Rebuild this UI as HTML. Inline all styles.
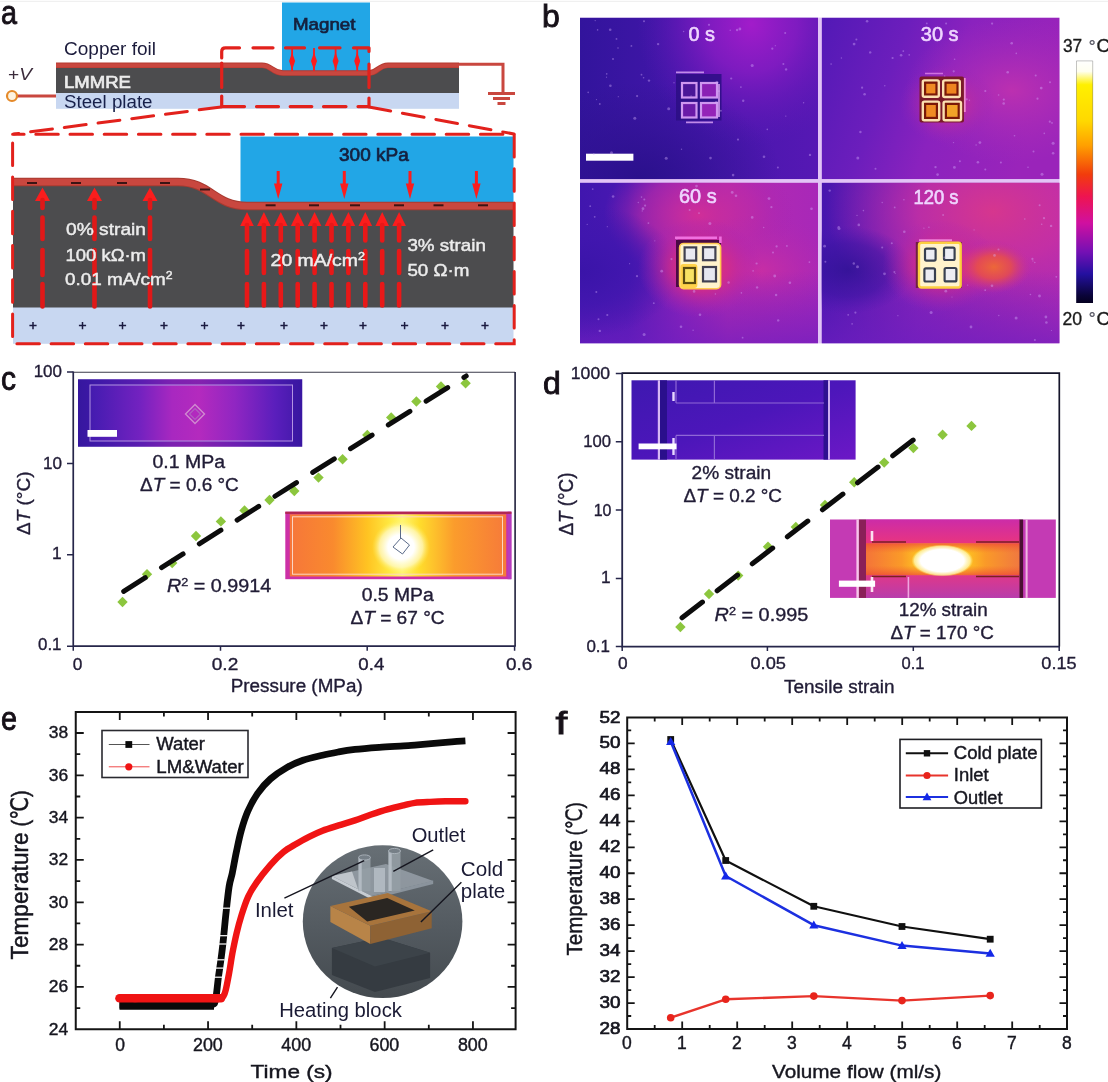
<!DOCTYPE html>
<html lang="en"><head><meta charset="utf-8"><title>Figure</title>
<style>
html,body{margin:0;padding:0;background:#fff;}
body{width:1108px;height:1082px;overflow:hidden;font-family:'Liberation Sans', 'DejaVu Sans', 'Noto Sans CJK SC', sans-serif;}
svg{display:block;}
svg text{font-family:'Liberation Sans', 'DejaVu Sans', 'Noto Sans CJK SC', sans-serif;}
</style></head><body>
<svg width="1108" height="1082" viewBox="0 0 1108 1082">
<rect width="1108" height="1082" fill="#ffffff"/>
<rect x="0" y="0.8" width="1108" height="1" fill="#ededed"/>
<g id="panel-a">
<text x="0.9" y="23.7" font-size="34" fill="#161018" textLength="16" lengthAdjust="spacingAndGlyphs" stroke="#161018" stroke-width="0.9">a</text>
<rect x="282" y="2.5" width="88" height="68.5" fill="#22a6e6"/>
<rect x="56" y="92.5" width="403" height="16.3" fill="#c8d7f1"/>
<path d="M56,66 L262,66 C272,66 272,74 283,74 L369,74 C378,74 378,66 388,66 L459,66 L459,93 L56,93 Z" fill="#4c4c4e"/>
<path d="M56,65.2 L262,65.2 C272,65.2 272,73 283,73 L369,73 C378,73 378,65.2 388,65.2 L459,65.2" fill="none" stroke="#b43a30" stroke-width="5.6"/>
<path d="M56,65.4 L262,65.4 C272,65.4 272,73.2 283,73.2 L369,73.2 C378,73.2 378,65.4 388,65.4 L459,65.4" fill="none" stroke="#c9473f" stroke-width="4"/>
<path d="M459,64.3 L503,64.3 L503,92" fill="none" stroke="#c9473f" stroke-width="3"/>
<path d="M488,93.5 H515 M493,98.5 H510 M497.5,103.5 H505.5" stroke="#c9473f" stroke-width="3" fill="none"/>
<path d="M17,96 H56" stroke="#c9473f" stroke-width="3"/>
<circle cx="12" cy="96" r="5" fill="#fdf3e0" stroke="#e58a2a" stroke-width="2.2"/>
<text x="64" y="55" font-size="18" fill="#1b1b3b" textLength="92" lengthAdjust="spacingAndGlyphs">Copper foil</text>
<text x="64" y="87.5" font-size="17" fill="#ececec" textLength="67" lengthAdjust="spacingAndGlyphs" stroke="#ececec" stroke-width="0.7">LMMRE</text>
<text x="64" y="108" font-size="17.5" fill="#17204a" textLength="88.5" lengthAdjust="spacingAndGlyphs">Steel plate</text>
<text x="8" y="80" font-size="17" fill="#3b2b3b" textLength="24" lengthAdjust="spacingAndGlyphs">+<tspan font-style="italic">V</tspan></text>
<text x="293" y="29.5" font-size="17" fill="#15213f" textLength="62.5" lengthAdjust="spacingAndGlyphs" stroke="#15213f" stroke-width="0.7">Magnet</text>
<path d="M292.1,48 V71" stroke="#fb1d1d" stroke-width="1.8"/>
<path d="M292.1,52.5 L295.1,61 L292.1,70 L289.1,61 Z" fill="#fb1d1d"/>
<path d="M314,48 V71" stroke="#fb1d1d" stroke-width="1.8"/>
<path d="M314,52.5 L317,61 L314,70 L311,61 Z" fill="#fb1d1d"/>
<path d="M335.6,48 V71" stroke="#fb1d1d" stroke-width="1.8"/>
<path d="M335.6,52.5 L338.6,61 L335.6,70 L332.6,61 Z" fill="#fb1d1d"/>
<path d="M357.2,48 V71" stroke="#fb1d1d" stroke-width="1.8"/>
<path d="M357.2,52.5 L360.2,61 L357.2,70 L354.2,61 Z" fill="#fb1d1d"/>
<path d="M221.7,58 V51.5 Q221.7,47.8 225.5,47.8 H239.5 M253,47.8 H273 M285.5,47.8 H304.5 M319.5,47.8 H340 M353.5,47.8 H369 V51.5 M221.7,63 V87.5 M221.7,96 V106.6 H244.5 M369,64 V87.5 M369,98 V106.6 H358 M256.5,106.6 H278.5 M290.2,106.6 H311.8 M323.5,106.6 H346" fill="none" stroke="#e2211c" stroke-width="3.2" stroke-linecap="round" stroke-linejoin="round"/>
<path d="M221,107 L14,134 M369,107 L514,134" fill="none" stroke="#e2211c" stroke-width="3" stroke-linecap="round" stroke-dasharray="22 12"/>
<rect x="240.5" y="136.5" width="273" height="66" fill="#22a6e6"/>
<rect x="13" y="307" width="500.5" height="36.8" fill="#c8d7f1"/>
<path d="M13,184 L178,184 C211,184 214,208 247,208 L513.5,208 L513.5,307.5 L13,307.5 Z" fill="#4c4c4e"/>
<path d="M13,182 L178,182 C211,182 214,206 247,206 L513.5,206" fill="none" stroke="#a83a30" stroke-width="8.6"/>
<path d="M13,182 L178,182 C211,182 214,206 247,206 L513.5,206" fill="none" stroke="#c9473f" stroke-width="6.4"/>
<path d="M27,183 H37" stroke="#3a1414" stroke-width="2"/>
<path d="M71,183 H81" stroke="#3a1414" stroke-width="2"/>
<path d="M117,183 H127" stroke="#3a1414" stroke-width="2"/>
<path d="M160,183 H170" stroke="#3a1414" stroke-width="2"/>
<path d="M200,189.5 H210" stroke="#3a1414" stroke-width="2"/>
<path d="M265.6,205.3 H275.6" stroke="#3a1414" stroke-width="2"/>
<path d="M309,205.3 H319" stroke="#3a1414" stroke-width="2"/>
<path d="M350,205.3 H360" stroke="#3a1414" stroke-width="2"/>
<path d="M394,205.3 H404" stroke="#3a1414" stroke-width="2"/>
<path d="M433.5,205.3 H443.5" stroke="#3a1414" stroke-width="2"/>
<path d="M478,205.3 H488" stroke="#3a1414" stroke-width="2"/>
<path d="M42.5,187.5 L50.0,201 L35.0,201 Z" fill="#fb1d1d"/>
<path d="M42.5,200 V208 M42.5,217.5 V239 M42.5,250 V275 M42.5,284 V306.5" stroke="#e01818" stroke-width="4.6" stroke-linecap="round"/>
<path d="M94.5,187.5 L102.0,201 L87.0,201 Z" fill="#fb1d1d"/>
<path d="M94.5,200 V208 M94.5,217.5 V239 M94.5,250 V275 M94.5,284 V306.5" stroke="#e01818" stroke-width="4.6" stroke-linecap="round"/>
<path d="M150,187.5 L157.5,201 L142.5,201 Z" fill="#fb1d1d"/>
<path d="M150,200 V208 M150,217.5 V239 M150,250 V275 M150,284 V306.5" stroke="#e01818" stroke-width="4.6" stroke-linecap="round"/>
<path d="M247.0,212 L253.8,226 L240.2,226 Z" fill="#fb1d1d"/>
<path d="M247.0,225 V240.5 M247.0,251 V273 M247.0,284 V305.5" stroke="#e81818" stroke-width="4.6" stroke-linecap="round"/>
<path d="M263.9,212 L270.7,226 L257.1,226 Z" fill="#fb1d1d"/>
<path d="M263.9,225 V240.5 M263.9,251 V273 M263.9,284 V305.5" stroke="#e81818" stroke-width="4.6" stroke-linecap="round"/>
<path d="M280.8,212 L287.6,226 L274.0,226 Z" fill="#fb1d1d"/>
<path d="M280.8,225 V240.5 M280.8,251 V273 M280.8,284 V305.5" stroke="#e81818" stroke-width="4.6" stroke-linecap="round"/>
<path d="M297.7,212 L304.5,226 L290.9,226 Z" fill="#fb1d1d"/>
<path d="M297.7,225 V240.5 M297.7,251 V273 M297.7,284 V305.5" stroke="#e81818" stroke-width="4.6" stroke-linecap="round"/>
<path d="M314.6,212 L321.4,226 L307.8,226 Z" fill="#fb1d1d"/>
<path d="M314.6,225 V240.5 M314.6,251 V273 M314.6,284 V305.5" stroke="#e81818" stroke-width="4.6" stroke-linecap="round"/>
<path d="M331.5,212 L338.3,226 L324.7,226 Z" fill="#fb1d1d"/>
<path d="M331.5,225 V240.5 M331.5,251 V273 M331.5,284 V305.5" stroke="#e81818" stroke-width="4.6" stroke-linecap="round"/>
<path d="M348.4,212 L355.2,226 L341.6,226 Z" fill="#fb1d1d"/>
<path d="M348.4,225 V240.5 M348.4,251 V273 M348.4,284 V305.5" stroke="#e81818" stroke-width="4.6" stroke-linecap="round"/>
<path d="M365.3,212 L372.1,226 L358.5,226 Z" fill="#fb1d1d"/>
<path d="M365.3,225 V240.5 M365.3,251 V273 M365.3,284 V305.5" stroke="#e81818" stroke-width="4.6" stroke-linecap="round"/>
<path d="M382.2,212 L389.0,226 L375.4,226 Z" fill="#fb1d1d"/>
<path d="M382.2,225 V240.5 M382.2,251 V273 M382.2,284 V305.5" stroke="#e81818" stroke-width="4.6" stroke-linecap="round"/>
<path d="M399.1,212 L405.9,226 L392.3,226 Z" fill="#fb1d1d"/>
<path d="M399.1,225 V240.5 M399.1,251 V273 M399.1,284 V305.5" stroke="#e81818" stroke-width="4.6" stroke-linecap="round"/>
<path d="M278.2,171 V186" stroke="#fb1d1d" stroke-width="3"/>
<path d="M274.0,183.5 L282.4,183.5 L278.2,199 Z" fill="#fb1d1d"/>
<path d="M344.3,171 V186" stroke="#fb1d1d" stroke-width="3"/>
<path d="M340.1,183.5 L348.5,183.5 L344.3,199 Z" fill="#fb1d1d"/>
<path d="M410,171 V186" stroke="#fb1d1d" stroke-width="3"/>
<path d="M405.8,183.5 L414.2,183.5 L410,199 Z" fill="#fb1d1d"/>
<path d="M476.4,171 V186" stroke="#fb1d1d" stroke-width="3"/>
<path d="M472.2,183.5 L480.59999999999997,183.5 L476.4,199 Z" fill="#fb1d1d"/>
<path d="M29.4,325.6 H36.6 M33,322 V329.2" stroke="#1a1a40" stroke-width="1.5"/>
<path d="M78.9,325.6 H86.1 M82.5,322 V329.2" stroke="#1a1a40" stroke-width="1.5"/>
<path d="M118.9,325.6 H126.1 M122.5,322 V329.2" stroke="#1a1a40" stroke-width="1.5"/>
<path d="M160.4,325.6 H167.6 M164,322 V329.2" stroke="#1a1a40" stroke-width="1.5"/>
<path d="M200.9,325.6 H208.1 M204.5,322 V329.2" stroke="#1a1a40" stroke-width="1.5"/>
<path d="M237.4,325.6 H244.6 M241,322 V329.2" stroke="#1a1a40" stroke-width="1.5"/>
<path d="M280.4,325.6 H287.6 M284,322 V329.2" stroke="#1a1a40" stroke-width="1.5"/>
<path d="M320.4,325.6 H327.6 M324,322 V329.2" stroke="#1a1a40" stroke-width="1.5"/>
<path d="M359.4,325.6 H366.6 M363,322 V329.2" stroke="#1a1a40" stroke-width="1.5"/>
<path d="M401.0,325.6 H408.20000000000005 M404.6,322 V329.2" stroke="#1a1a40" stroke-width="1.5"/>
<path d="M441.4,325.6 H448.6 M445,322 V329.2" stroke="#1a1a40" stroke-width="1.5"/>
<path d="M481.4,325.6 H488.6 M485,322 V329.2" stroke="#1a1a40" stroke-width="1.5"/>
<rect x="12.6" y="134.2" width="501.6" height="209.6" fill="none" stroke="#e2211c" stroke-width="3" stroke-linecap="round" stroke-dasharray="22.5 11.7" stroke-dashoffset="11"/>
<text x="339" y="161" font-size="17.5" fill="#15213f" textLength="69.7" lengthAdjust="spacingAndGlyphs" stroke="#15213f" stroke-width="0.7">300 kPa</text>
<text x="66" y="235" font-size="17" fill="#ececec" textLength="80" lengthAdjust="spacingAndGlyphs" stroke="#ececec" stroke-width="0.45">0% strain</text>
<text x="65.5" y="260.5" font-size="17" fill="#ececec" textLength="80.5" lengthAdjust="spacingAndGlyphs" stroke="#ececec" stroke-width="0.45">100 kΩ·m</text>
<text x="65" y="284.5" font-size="17" fill="#ececec" stroke="#ececec" stroke-width="0.45" textLength="107.5" lengthAdjust="spacingAndGlyphs">0.01 mA/cm<tspan dy="-6" font-size="11">2</tspan></text>
<text x="270.6" y="266" font-size="17" fill="#ececec" stroke="#ececec" stroke-width="0.45" textLength="94.4" lengthAdjust="spacingAndGlyphs">20 mA/cm<tspan dy="-6" font-size="11">2</tspan></text>
<text x="407.4" y="250.6" font-size="17" fill="#ececec" textLength="78.5" lengthAdjust="spacingAndGlyphs" stroke="#ececec" stroke-width="0.45">3% strain</text>
<text x="407.4" y="276.4" font-size="17" fill="#ececec" textLength="62" lengthAdjust="spacingAndGlyphs" stroke="#ececec" stroke-width="0.45">50 Ω·m</text>
</g>
<g id="panel-b">
<text x="542" y="27.4" font-size="32" fill="#161018" stroke="#161018" stroke-width="0.9">b</text>
<defs>
<linearGradient id="b1base" x1="0" y1="0" x2="1" y2="0"><stop offset="0" stop-color="#32149c"/><stop offset="0.45" stop-color="#4316aa"/><stop offset="1" stop-color="#5618b4"/></linearGradient>
<radialGradient id="b1mag" cx="0.72" cy="0.04" r="0.6" gradientTransform="translate(0.72 0.04) scale(0.8 1.25) translate(-0.72 -0.04)"><stop offset="0" stop-color="#a21cca"/><stop offset="0.4" stop-color="#8a1cc4" stop-opacity="0.8"/><stop offset="1" stop-color="#6018b8" stop-opacity="0"/></radialGradient>
<radialGradient id="b1dark" cx="0.25" cy="1.0" r="0.6"><stop offset="0" stop-color="#2a108c"/><stop offset="1" stop-color="#30128f" stop-opacity="0"/></radialGradient>
<linearGradient id="b2base" x1="0" y1="0" x2="1" y2="0.25"><stop offset="0" stop-color="#5219b6"/><stop offset="0.35" stop-color="#6c1ebc"/><stop offset="0.6" stop-color="#8a22be"/><stop offset="1" stop-color="#9a24ba"/></linearGradient>
<radialGradient id="b2pink" cx="0.8" cy="0.45" r="0.45"><stop offset="0" stop-color="#bc30b0"/><stop offset="1" stop-color="#a62cba" stop-opacity="0"/></radialGradient>
<radialGradient id="glow2" cx="0.5" cy="0.5" r="0.5"><stop offset="0" stop-color="#e0407a"/><stop offset="0.45" stop-color="#c42e9a" stop-opacity="0.7"/><stop offset="1" stop-color="#9626b8" stop-opacity="0"/></radialGradient>
<linearGradient id="b3base" x1="0" y1="0" x2="1" y2="0"><stop offset="0" stop-color="#4016ae"/><stop offset="0.2" stop-color="#4a18b2"/><stop offset="0.42" stop-color="#8a22b8"/><stop offset="0.62" stop-color="#b42ab0"/><stop offset="1" stop-color="#a828b8"/></linearGradient>
<radialGradient id="b3pink" cx="0.5" cy="0.2" r="0.4"><stop offset="0" stop-color="#d02e98"/><stop offset="0.6" stop-color="#bc2aa6" stop-opacity="0.6"/><stop offset="1" stop-color="#a424b2" stop-opacity="0"/></radialGradient>
<radialGradient id="b3pink2" cx="0.75" cy="0.55" r="0.35"><stop offset="0" stop-color="#c82ea4"/><stop offset="1" stop-color="#b028b0" stop-opacity="0"/></radialGradient>
<linearGradient id="bbot" x1="0" y1="0" x2="0" y2="1"><stop offset="0.55" stop-color="#6e1ec0" stop-opacity="0"/><stop offset="1" stop-color="#6e1ec0" stop-opacity="0.7"/></linearGradient>
<radialGradient id="b3dark" cx="0.0" cy="0.55" r="0.42"><stop offset="0" stop-color="#3a14a8"/><stop offset="0.5" stop-color="#4016ae" stop-opacity="0.8"/><stop offset="1" stop-color="#4216ae" stop-opacity="0"/></radialGradient>
<radialGradient id="glow3" cx="0.5" cy="0.5" r="0.5"><stop offset="0" stop-color="#f03c5a"/><stop offset="0.45" stop-color="#d42c88" stop-opacity="0.8"/><stop offset="1" stop-color="#a824b4" stop-opacity="0"/></radialGradient>
<linearGradient id="b4base" x1="0" y1="0" x2="1" y2="0"><stop offset="0" stop-color="#4616ae"/><stop offset="0.4" stop-color="#8222b8"/><stop offset="1" stop-color="#b42cb2"/></linearGradient>
<radialGradient id="b4pink" cx="0.72" cy="0.18" r="0.7"><stop offset="0" stop-color="#d6368e"/><stop offset="0.45" stop-color="#c830a2" stop-opacity="0.8"/><stop offset="1" stop-color="#a628b2" stop-opacity="0"/></radialGradient>
<radialGradient id="b4dark" cx="0.5" cy="0.5" r="0.5"><stop offset="0" stop-color="#2e1294"/><stop offset="0.6" stop-color="#3a14a2" stop-opacity="0.7"/><stop offset="1" stop-color="#4616ae" stop-opacity="0"/></radialGradient>
<radialGradient id="b4hot" cx="0.5" cy="0.5" r="0.5"><stop offset="0" stop-color="#ee6a34"/><stop offset="0.45" stop-color="#e85048" stop-opacity="0.85"/><stop offset="1" stop-color="#c8309a" stop-opacity="0"/></radialGradient>
<linearGradient id="cbar" x1="0" y1="0" x2="0" y2="1">
<stop offset="0" stop-color="#ffffff"/><stop offset="0.045" stop-color="#fffff0"/><stop offset="0.10" stop-color="#fff000"/><stop offset="0.25" stop-color="#ffd800"/><stop offset="0.35" stop-color="#ffa000"/><stop offset="0.47" stop-color="#f23c0c"/><stop offset="0.56" stop-color="#ee1450"/><stop offset="0.67" stop-color="#d010a0"/><stop offset="0.79" stop-color="#7410b4"/><stop offset="0.88" stop-color="#2410a0"/><stop offset="0.97" stop-color="#0a0438"/><stop offset="1" stop-color="#050020"/></linearGradient>
<clipPath id="cb1"><rect x="580" y="17.6" width="238" height="161.6"/></clipPath>
<clipPath id="cb2"><rect x="821.6" y="17.6" width="238" height="161.6"/></clipPath>
<clipPath id="cb3"><rect x="580" y="182.6" width="238" height="160.8"/></clipPath>
<clipPath id="cb4"><rect x="821.6" y="182.6" width="238" height="160.8"/></clipPath>
</defs>
<rect x="580" y="17.6" width="479.6" height="325.8" fill="#e2c4f6"/>
<g clip-path="url(#cb1)">
<rect x="580" y="17.6" width="238" height="161.6" fill="url(#b1base)"/>
<rect x="580" y="17.6" width="238" height="161.6" fill="url(#b1mag)"/>
<rect x="580" y="17.6" width="238" height="161.6" fill="url(#b1dark)"/>
<rect x="676" y="74" width="45.5" height="46.5" fill="#2c0e84" opacity="0.85"/>
<rect x="682" y="83" width="14.5" height="14.5" fill="#4a1698" stroke="#cf96f0" stroke-width="2.2"/>
<rect x="701" y="83" width="16" height="14.5" fill="#8a20b4" stroke="#cf96f0" stroke-width="2.2"/>
<rect x="682" y="103" width="14.5" height="14.5" fill="#6a1aa8" stroke="#cf96f0" stroke-width="2.2"/>
<rect x="701" y="103" width="16" height="14.5" fill="#9424b8" stroke="#cf96f0" stroke-width="2.2"/>
<path d="M676,72.4 H704 M686,122.4 H713" stroke="#c08ae8" stroke-width="1.8"/>
<path d="M719,84 V117" stroke="#d8a0f0" stroke-width="1.6"/>
</g>
<rect x="586" y="153.7" width="47.4" height="7" fill="#ffffff"/>
<g clip-path="url(#cb2)">
<rect x="821.6" y="17.6" width="238" height="161.6" fill="url(#b2base)"/>
<rect x="821.6" y="17.6" width="238" height="161.6" fill="url(#b2pink)"/>
<ellipse cx="947" cy="104" rx="48" ry="40" fill="url(#glow2)" opacity="0.75"/>
<rect x="919.5" y="76.5" width="44.5" height="46" rx="2" fill="#7a1a2a"/>
<path d="M964.8,78 V112" stroke="#f08ad0" stroke-width="1.8"/>
<path d="M925,73.5 H943" stroke="#d070e0" stroke-width="1.6"/>
<rect x="922.8" y="80.4" width="16" height="16.4" rx="1.5" fill="#7a1808" stroke="#fbe0b0" stroke-width="2.4"/>
<rect x="926.1999999999999" y="83.80000000000001" width="9.2" height="9.6" fill="#f08a24"/>
<rect x="943.2" y="80.4" width="16.6" height="16.6" rx="1.5" fill="#7a1808" stroke="#fbe0b0" stroke-width="2.4"/>
<rect x="946.6" y="83.80000000000001" width="9.8" height="9.8" fill="#ee8420"/>
<rect x="922.8" y="101.6" width="16.4" height="18.6" rx="1.5" fill="#7a1808" stroke="#fbe0b0" stroke-width="2.4"/>
<rect x="926.1999999999999" y="105.0" width="9.6" height="11.8" fill="#f08a24"/>
<rect x="943.6" y="101.6" width="17.4" height="18.6" rx="1.5" fill="#7a1808" stroke="#fbe0b0" stroke-width="2.4"/>
<rect x="947.0" y="105.0" width="10.6" height="11.8" fill="#f2a228"/>
</g>
<g clip-path="url(#cb3)">
<rect x="580" y="182.6" width="238" height="160.8" fill="url(#b3base)"/>
<rect x="580" y="182.6" width="238" height="160.8" fill="url(#b3pink)"/>
<rect x="580" y="182.6" width="238" height="160.8" fill="url(#b3pink2)"/>
<rect x="580" y="182.6" width="238" height="160.8" fill="url(#bbot)"/>
<rect x="580" y="182.6" width="238" height="160.8" fill="url(#b3dark)"/>
<ellipse cx="700" cy="268" rx="62" ry="50" fill="url(#glow3)"/>
<rect x="676" y="240" width="45" height="47" fill="#4a0a44"/>
<path d="M675,237.8 H717 M720.4,236.5 V243" stroke="#f070e0" stroke-width="2.6"/>
<rect x="679.6" y="243.5" width="41" height="45.2" rx="4" fill="#fff3cc" stroke="#ffc850" stroke-width="1.6"/>
<rect x="680.4" y="264" width="17" height="24" rx="3" fill="#ffd24a"/>
<rect x="684.6" y="247.4" width="11.6" height="13.2" fill="#e9e9f1" stroke="#404050" stroke-width="2.2"/>
<rect x="703" y="247.2" width="12.4" height="13" fill="#e9e9f1" stroke="#404050" stroke-width="2.2"/>
<rect x="684" y="268" width="11" height="15" fill="#f8e264" stroke="#5a4a10" stroke-width="2.2"/>
<rect x="703" y="267" width="13" height="14.4" fill="#e6e8f0" stroke="#404050" stroke-width="2.2"/>
</g>
<g clip-path="url(#cb4)">
<rect x="821.6" y="182.6" width="238" height="160.8" fill="url(#b4base)"/>
<rect x="821.6" y="182.6" width="238" height="160.8" fill="url(#b4pink)"/>
<rect x="821.6" y="182.6" width="238" height="160.8" fill="url(#bbot)"/>
<ellipse cx="848" cy="270" rx="66" ry="44" fill="url(#b4dark)" opacity="0.8"/>
<ellipse cx="940" cy="266" rx="58" ry="46" fill="url(#glow3)" opacity="0.8"/>
<ellipse cx="980" cy="268" rx="52" ry="30" fill="url(#glow3)" opacity="0.55"/>
<ellipse cx="994" cy="267" rx="38" ry="26" fill="url(#b4hot)" opacity="0.95"/>
<rect x="915.8" y="242" width="46" height="46" fill="#702040"/>
<path d="M919,240.3 H952" stroke="#f080d8" stroke-width="2"/>
<rect x="919" y="242.8" width="41.7" height="44.7" rx="2.5" fill="#fff3cc" stroke="#fccf40" stroke-width="2.4"/>
<rect x="925" y="248.6" width="10.6" height="12" rx="1.5" fill="#ecedf3" stroke="#384050" stroke-width="2.2"/>
<rect x="944" y="247.6" width="10.6" height="12.4" rx="1.5" fill="#ecedf3" stroke="#384050" stroke-width="2.2"/>
<rect x="924.4" y="268.3" width="10.6" height="13.2" rx="1.5" fill="#ecedf3" stroke="#384050" stroke-width="2.2"/>
<rect x="944.6" y="268" width="11.8" height="13.4" rx="1.5" fill="#ecedf3" stroke="#384050" stroke-width="2.2"/>
</g>
<g fill="#d8b4ff" opacity="0.38"><circle cx="658.1" cy="44.1" r="1.2"/><circle cx="599.8" cy="104.0" r="0.9"/><circle cx="596.5" cy="99.6" r="0.6"/><circle cx="683.6" cy="31.5" r="0.7"/><circle cx="681.5" cy="149.3" r="0.7"/><circle cx="634.8" cy="118.2" r="1.5"/><circle cx="716.9" cy="82.3" r="1.5"/><circle cx="593.8" cy="154.2" r="0.9"/><circle cx="616.5" cy="38.9" r="0.9"/><circle cx="772.3" cy="48.7" r="1.1"/><circle cx="731.2" cy="78.5" r="1.1"/><circle cx="597.6" cy="29.9" r="0.8"/><circle cx="740.9" cy="87.1" r="0.9"/><circle cx="718.9" cy="91.1" r="0.9"/><circle cx="767.3" cy="129.4" r="0.8"/><circle cx="716.3" cy="102.3" r="1.4"/><circle cx="752.2" cy="65.4" r="1.5"/><circle cx="610.4" cy="85.7" r="1.3"/><circle cx="618.3" cy="96.7" r="0.6"/><circle cx="738.0" cy="139.6" r="1.1"/><circle cx="786.1" cy="69.4" r="1.2"/><circle cx="720.9" cy="110.8" r="1.0"/><circle cx="777.9" cy="167.6" r="1.0"/><circle cx="737.1" cy="30.0" r="1.2"/><circle cx="733.1" cy="175.1" r="1.3"/><circle cx="649.0" cy="80.6" r="1.2"/><circle cx="588.2" cy="92.4" r="0.8"/><circle cx="610.2" cy="29.8" r="1.3"/><circle cx="613.0" cy="59.1" r="1.0"/><circle cx="785.2" cy="33.1" r="1.0"/><circle cx="710.5" cy="158.1" r="1.3"/><circle cx="783.4" cy="63.9" r="1.0"/><circle cx="666.2" cy="158.2" r="1.5"/><circle cx="618.0" cy="48.0" r="0.8"/><circle cx="637.1" cy="96.1" r="1.1"/><circle cx="644.0" cy="21.2" r="1.0"/><circle cx="668.7" cy="108.7" r="1.5"/><circle cx="743.2" cy="100.8" r="1.2"/><circle cx="739.9" cy="29.0" r="1.4"/><circle cx="764.0" cy="156.7" r="1.3"/><circle cx="674.0" cy="82.7" r="0.7"/><circle cx="730.2" cy="30.3" r="0.7"/><circle cx="631.4" cy="45.9" r="0.9"/><circle cx="595.2" cy="20.6" r="0.7"/><circle cx="606.5" cy="77.2" r="0.6"/><circle cx="785.8" cy="116.1" r="0.7"/><circle cx="641.5" cy="74.7" r="0.9"/><circle cx="611.5" cy="152.7" r="1.5"/><circle cx="691.1" cy="95.9" r="0.7"/><circle cx="606.7" cy="73.9" r="0.8"/><circle cx="775.3" cy="45.7" r="0.6"/><circle cx="803.6" cy="102.8" r="0.7"/><circle cx="709.0" cy="24.8" r="1.1"/><circle cx="810.0" cy="154.9" r="1.2"/><circle cx="643.6" cy="77.7" r="0.8"/><circle cx="1003.7" cy="103.5" r="1.3"/><circle cx="901.1" cy="55.3" r="1.3"/><circle cx="1053.1" cy="153.3" r="1.3"/><circle cx="1014.5" cy="135.7" r="0.8"/><circle cx="944.7" cy="75.9" r="0.6"/><circle cx="831.1" cy="64.1" r="0.8"/><circle cx="985.3" cy="169.4" r="1.0"/><circle cx="1042.0" cy="174.3" r="1.5"/><circle cx="909.2" cy="54.9" r="0.8"/><circle cx="870.2" cy="52.4" r="1.2"/><circle cx="1033.5" cy="151.4" r="1.0"/><circle cx="976.1" cy="145.0" r="0.7"/><circle cx="977.9" cy="162.2" r="1.3"/><circle cx="998.6" cy="95.0" r="0.8"/><circle cx="1007.7" cy="72.3" r="1.3"/><circle cx="1050.0" cy="82.2" r="1.0"/><circle cx="1044.3" cy="133.4" r="0.8"/><circle cx="854.1" cy="44.1" r="1.4"/><circle cx="1011.7" cy="43.3" r="1.3"/><circle cx="1052.0" cy="122.9" r="0.9"/><circle cx="951.9" cy="41.0" r="0.6"/><circle cx="1049.8" cy="121.7" r="1.1"/><circle cx="1041.2" cy="88.1" r="1.4"/><circle cx="1016.3" cy="53.4" r="0.8"/><circle cx="892.6" cy="58.0" r="1.1"/><circle cx="884.8" cy="85.8" r="0.7"/><circle cx="1035.7" cy="75.6" r="1.0"/><circle cx="959.9" cy="161.3" r="1.0"/><circle cx="1037.5" cy="98.7" r="1.1"/><circle cx="946.1" cy="23.5" r="1.0"/><circle cx="867.1" cy="21.2" r="1.3"/><circle cx="864.6" cy="94.3" r="1.3"/><circle cx="953.7" cy="71.3" r="1.1"/><circle cx="953.5" cy="142.6" r="0.7"/><circle cx="954.6" cy="59.3" r="0.8"/><circle cx="1003.8" cy="99.6" r="1.1"/><circle cx="1000.9" cy="162.6" r="1.0"/><circle cx="966.7" cy="99.3" r="1.1"/><circle cx="985.3" cy="91.0" r="1.1"/><circle cx="935.5" cy="167.1" r="1.2"/><circle cx="1028.0" cy="167.2" r="0.8"/><circle cx="954.4" cy="167.4" r="1.4"/><circle cx="856.4" cy="39.5" r="1.0"/><circle cx="841.4" cy="58.0" r="0.7"/><circle cx="979.9" cy="142.6" r="1.4"/><circle cx="860.4" cy="132.0" r="1.2"/><circle cx="857.8" cy="158.0" r="1.5"/><circle cx="875.5" cy="168.8" r="1.0"/><circle cx="937.6" cy="174.6" r="1.3"/><circle cx="862.1" cy="87.7" r="1.1"/><circle cx="903.3" cy="51.1" r="0.9"/><circle cx="992.1" cy="23.6" r="1.1"/><circle cx="926.8" cy="23.4" r="0.9"/><circle cx="969.4" cy="100.3" r="0.7"/><circle cx="1053.1" cy="143.3" r="1.5"/><circle cx="607.3" cy="226.7" r="0.6"/><circle cx="763.7" cy="227.5" r="0.7"/><circle cx="681.0" cy="326.7" r="1.3"/><circle cx="643.0" cy="208.7" r="1.4"/><circle cx="715.4" cy="294.0" r="0.7"/><circle cx="596.3" cy="292.1" r="1.0"/><circle cx="599.8" cy="330.9" r="1.2"/><circle cx="769.0" cy="198.6" r="1.4"/><circle cx="598.5" cy="319.2" r="1.0"/><circle cx="661.7" cy="271.2" r="1.4"/><circle cx="645.1" cy="205.6" r="1.1"/><circle cx="638.3" cy="202.5" r="0.7"/><circle cx="594.7" cy="216.8" r="0.9"/><circle cx="653.8" cy="303.2" r="0.9"/><circle cx="699.0" cy="213.1" r="0.9"/><circle cx="587.2" cy="224.4" r="0.6"/><circle cx="753.1" cy="270.9" r="0.8"/><circle cx="693.1" cy="330.3" r="0.7"/><circle cx="773.0" cy="252.5" r="1.0"/><circle cx="776.6" cy="246.4" r="1.1"/><circle cx="742.6" cy="337.7" r="0.9"/><circle cx="776.1" cy="295.0" r="1.2"/><circle cx="676.9" cy="239.4" r="0.6"/><circle cx="613.1" cy="196.5" r="1.3"/><circle cx="642.3" cy="210.9" r="0.7"/><circle cx="778.2" cy="320.4" r="1.2"/><circle cx="648.4" cy="223.1" r="0.9"/><circle cx="689.6" cy="210.0" r="1.0"/><circle cx="644.1" cy="334.5" r="1.5"/><circle cx="709.9" cy="223.4" r="1.5"/><circle cx="654.8" cy="240.8" r="0.6"/><circle cx="671.5" cy="259.1" r="1.1"/><circle cx="629.6" cy="263.7" r="0.6"/><circle cx="644.3" cy="199.5" r="1.0"/><circle cx="592.7" cy="189.1" r="0.9"/><circle cx="637.0" cy="276.2" r="1.1"/><circle cx="757.1" cy="287.4" r="1.2"/><circle cx="786.9" cy="245.9" r="0.9"/><circle cx="811.5" cy="208.7" r="1.3"/><circle cx="732.2" cy="192.4" r="1.4"/><circle cx="789.9" cy="282.7" r="1.3"/><circle cx="771.4" cy="207.2" r="1.1"/><circle cx="700.0" cy="314.8" r="1.3"/><circle cx="774.7" cy="276.0" r="1.4"/><circle cx="741.4" cy="292.9" r="0.8"/><circle cx="590.2" cy="206.2" r="0.9"/><circle cx="607.3" cy="315.0" r="1.1"/><circle cx="728.6" cy="282.5" r="1.2"/><circle cx="696.5" cy="186.1" r="1.3"/><circle cx="756.6" cy="263.5" r="1.1"/><circle cx="736.0" cy="195.8" r="1.3"/><circle cx="641.5" cy="197.1" r="0.8"/><circle cx="752.2" cy="217.4" r="1.3"/><circle cx="809.4" cy="262.1" r="0.9"/><circle cx="694.1" cy="291.4" r="1.3"/><circle cx="967.7" cy="285.1" r="0.7"/><circle cx="858.8" cy="224.9" r="1.3"/><circle cx="895.2" cy="273.5" r="0.6"/><circle cx="838.7" cy="227.2" r="1.2"/><circle cx="985.2" cy="290.2" r="0.9"/><circle cx="944.4" cy="257.5" r="1.0"/><circle cx="852.1" cy="323.9" r="0.8"/><circle cx="1051.5" cy="330.5" r="0.6"/><circle cx="931.1" cy="312.5" r="1.5"/><circle cx="928.9" cy="227.2" r="0.8"/><circle cx="1044.0" cy="218.2" r="1.1"/><circle cx="857.5" cy="266.7" r="1.5"/><circle cx="855.4" cy="312.6" r="1.1"/><circle cx="1030.4" cy="294.5" r="0.8"/><circle cx="1032.9" cy="260.9" r="0.6"/><circle cx="825.4" cy="261.7" r="1.0"/><circle cx="894.7" cy="207.4" r="0.9"/><circle cx="897.9" cy="315.7" r="0.6"/><circle cx="998.8" cy="315.5" r="0.7"/><circle cx="1039.5" cy="296.0" r="1.4"/><circle cx="891.8" cy="243.2" r="1.0"/><circle cx="1056.3" cy="276.8" r="0.9"/><circle cx="923.9" cy="228.2" r="0.6"/><circle cx="848.2" cy="314.8" r="0.9"/><circle cx="1041.7" cy="224.2" r="0.8"/><circle cx="943.1" cy="215.0" r="0.9"/><circle cx="1046.4" cy="322.5" r="1.3"/><circle cx="971.0" cy="327.0" r="1.4"/><circle cx="952.0" cy="297.0" r="0.6"/><circle cx="994.5" cy="255.4" r="1.3"/><circle cx="974.1" cy="229.9" r="0.6"/><circle cx="1039.6" cy="205.3" r="1.0"/><circle cx="904.3" cy="231.7" r="1.3"/><circle cx="1051.1" cy="225.9" r="1.2"/><circle cx="894.4" cy="271.9" r="1.0"/><circle cx="863.4" cy="210.6" r="0.8"/><circle cx="1034.8" cy="262.5" r="0.8"/><circle cx="1034.9" cy="339.9" r="1.0"/><circle cx="857.0" cy="215.4" r="0.7"/><circle cx="903.9" cy="199.7" r="0.8"/><circle cx="884.5" cy="273.8" r="1.4"/><circle cx="998.5" cy="249.5" r="1.0"/><circle cx="946.2" cy="243.9" r="0.9"/><circle cx="839.0" cy="228.6" r="1.5"/><circle cx="853.8" cy="263.5" r="1.2"/><circle cx="1024.8" cy="219.0" r="0.8"/><circle cx="882.2" cy="247.5" r="1.0"/><circle cx="1045.9" cy="317.0" r="1.4"/><circle cx="829.7" cy="190.6" r="1.2"/><circle cx="1032.4" cy="258.9" r="1.1"/><circle cx="824.6" cy="246.2" r="1.4"/><circle cx="1016.1" cy="318.0" r="1.5"/><circle cx="882.2" cy="202.5" r="0.7"/><circle cx="945.8" cy="291.2" r="1.4"/><circle cx="992.0" cy="285.8" r="1.3"/></g>
<text x="688.5" y="41" font-size="20" fill="#efd6ff" textLength="26.5" lengthAdjust="spacingAndGlyphs" stroke="#efd6ff" stroke-width="0.6">0 s</text>
<text x="920.8" y="40.5" font-size="20" fill="#efd6ff" textLength="37.7" lengthAdjust="spacingAndGlyphs" stroke="#efd6ff" stroke-width="0.6">30 s</text>
<text x="679.1" y="203" font-size="20" fill="#efd6ff" textLength="37.5" lengthAdjust="spacingAndGlyphs" stroke="#efd6ff" stroke-width="0.6">60 s</text>
<text x="913.5" y="203.6" font-size="20" fill="#efd6ff" textLength="45" lengthAdjust="spacingAndGlyphs" stroke="#efd6ff" stroke-width="0.6">120 s</text>
<rect x="1076.2" y="60.5" width="16.8" height="242.5" fill="url(#cbar)"/>
<path d="M1076.5,200 V60.9 H1092.7 V200" fill="none" stroke="#777" stroke-opacity="0.55" stroke-width="0.8"/>
<text y="52.3" font-size="19" fill="#1a1a1a" stroke="#1a1a1a" stroke-width="0.35"><tspan x="1063" textLength="19.2" lengthAdjust="spacingAndGlyphs">37</tspan><tspan x="1084" dy="-0.8" font-size="17" fill="#5a5a66" stroke="#5a5a66"> °</tspan><tspan x="1096.6" dy="0.8">C</tspan></text>
<text y="324.8" font-size="19" fill="#1a1a1a" stroke="#1a1a1a" stroke-width="0.35"><tspan x="1062.5" textLength="19.6" lengthAdjust="spacingAndGlyphs">20</tspan><tspan x="1084" dy="-0.8" font-size="17" fill="#5a5a66" stroke="#5a5a66"> °</tspan><tspan x="1096.6" dy="0.8">C</tspan></text>
</g>
<g id="panel-c">
<defs>
<linearGradient id="c1g" x1="0" y1="0" x2="1" y2="0"><stop offset="0" stop-color="#3c18a4"/><stop offset="0.08" stop-color="#481cb2"/><stop offset="0.28" stop-color="#7422c0"/><stop offset="0.42" stop-color="#a828c0"/><stop offset="0.54" stop-color="#b42abe"/><stop offset="0.7" stop-color="#9026c2"/><stop offset="0.88" stop-color="#5a1ebc"/><stop offset="1" stop-color="#4018a8"/></linearGradient>
<linearGradient id="c2g" x1="0" y1="0" x2="1" y2="0"><stop offset="0" stop-color="#f6763a"/><stop offset="0.2" stop-color="#f98a2e"/><stop offset="0.36" stop-color="#ffc422"/><stop offset="0.46" stop-color="#ffe840"/><stop offset="0.52" stop-color="#fff670"/><stop offset="0.60" stop-color="#ffdc2c"/><stop offset="0.76" stop-color="#fb9c2c"/><stop offset="1" stop-color="#f67a3a"/></linearGradient>
<radialGradient id="c2w" cx="0.5" cy="0.5" r="0.5"><stop offset="0" stop-color="#ffffff"/><stop offset="0.45" stop-color="#ffffff"/><stop offset="0.75" stop-color="#fffbd0" stop-opacity="0.7"/><stop offset="1" stop-color="#ffee60" stop-opacity="0"/></radialGradient>
</defs>
<text x="1.0" y="389.6" font-size="33" fill="#161018" textLength="15" lengthAdjust="spacingAndGlyphs" stroke="#161018" stroke-width="0.9">c</text>
<rect x="78" y="379.3" width="224.2" height="67.4" fill="url(#c1g)"/>
<path d="M78,379.3 H302.2 V446.7 H78 Z M90,385 V441 H292.5 V385 Z" fill="#2c1494" fill-opacity="0.35" fill-rule="evenodd"/>
<rect x="90" y="385" width="202.5" height="56" fill="none" stroke="#b294e2" stroke-width="1"/>
<path d="M195,404.5 L204.5,414 L195,423.5 L185.5,414 Z" fill="none" stroke="#d08ad0" stroke-width="1.4"/>
<path d="M195,408.5 L200.5,414 L195,419.5 L189.5,414 Z" fill="none" stroke="#b060c0" stroke-width="1.2"/>
<rect x="87.5" y="430" width="29.5" height="6.8" fill="#ffffff"/>
<rect x="285.3" y="511.7" width="226.1" height="67.5" fill="#cc30a6"/>
<rect x="507.6" y="511.7" width="3.8" height="67.5" fill="#b43cc0"/>
<rect x="285.3" y="511.7" width="226.1" height="2.2" fill="#b02850"/>
<rect x="289.8" y="514.3" width="216.4" height="62.2" fill="url(#c2g)"/>
<ellipse cx="401" cy="547" rx="29" ry="27" fill="url(#c2w)"/>
<rect x="292.5" y="516.8" width="210" height="57.4" fill="none" stroke="#fbd6c4" stroke-width="1"/>
<path d="M401,538 L409.5,545 L402.5,554 L393,547 Z M400.5,525 V538" fill="none" stroke="#5a6a88" stroke-width="1"/>
<path d="M122.5,596.8 L127.7,602 L122.5,607.2 L117.3,602 Z" fill="#8cc63e"/>
<path d="M147,569.0999999999999 L152.2,574.3 L147,579.5 L141.8,574.3 Z" fill="#8cc63e"/>
<path d="M172.2,557.8 L177.39999999999998,563 L172.2,568.2 L167.0,563 Z" fill="#8cc63e"/>
<path d="M196,530.8 L201.2,536 L196,541.2 L190.8,536 Z" fill="#8cc63e"/>
<path d="M220.9,516.1999999999999 L226.1,521.4 L220.9,526.6 L215.70000000000002,521.4 Z" fill="#8cc63e"/>
<path d="M244.5,505.3 L249.7,510.5 L244.5,515.7 L239.3,510.5 Z" fill="#8cc63e"/>
<path d="M269.5,494.8 L274.7,500 L269.5,505.2 L264.3,500 Z" fill="#8cc63e"/>
<path d="M294.3,485.8 L299.5,491 L294.3,496.2 L289.1,491 Z" fill="#8cc63e"/>
<path d="M318.5,472.40000000000003 L323.7,477.6 L318.5,482.8 L313.3,477.6 Z" fill="#8cc63e"/>
<path d="M342.6,454.0 L347.8,459.2 L342.6,464.4 L337.40000000000003,459.2 Z" fill="#8cc63e"/>
<path d="M367.3,429.8 L372.5,435 L367.3,440.2 L362.1,435 Z" fill="#8cc63e"/>
<path d="M391.2,412.2 L396.4,417.4 L391.2,422.59999999999997 L386.0,417.4 Z" fill="#8cc63e"/>
<path d="M416.4,396.3 L421.59999999999997,401.5 L416.4,406.7 L411.2,401.5 Z" fill="#8cc63e"/>
<path d="M441,381.3 L446.2,386.5 L441,391.7 L435.8,386.5 Z" fill="#8cc63e"/>
<path d="M465.6,378.1 L470.8,383.3 L465.6,388.5 L460.40000000000003,383.3 Z" fill="#8cc63e"/>
<path d="M122.5,592 L465,376.7" stroke="#0c0c0c" stroke-width="5" stroke-linecap="round" stroke-dasharray="25.5 19.15" fill="none" transform="translate(1.2,-0.7)"/>
<path d="M73.25,372.2 H515" fill="none" stroke="#3a3a4a" stroke-width="1.1"/>
<path d="M515.1,372 V646.2" fill="none" stroke="#20203c" stroke-width="1.6"/>
<path d="M73.25,371.4 V646.2 H515.6" fill="none" stroke="#26264a" stroke-width="1.7"/>
<path d="M67,372 H73.25 M67,463.4 H73.25 M67,554.8 H73.25 M67,646.2 H73.25 M73.25,646 V650.8 M220.5,646 V650.8 M367.2,646 V650.8 M514.6,646 V650.8" stroke="#26264a" stroke-width="1.5" fill="none"/>
<text x="62" y="377" font-size="17.3" fill="#211c36" text-anchor="end" textLength="28.3" lengthAdjust="spacingAndGlyphs" stroke="#211c36" stroke-width="0.35">100</text>
<text x="62" y="468.8" font-size="17.3" fill="#211c36" text-anchor="end" textLength="19" lengthAdjust="spacingAndGlyphs" stroke="#211c36" stroke-width="0.35">10</text>
<text x="61.5" y="559" font-size="17.3" fill="#211c36" text-anchor="end" stroke="#211c36" stroke-width="0.35">1</text>
<text x="61.5" y="650.2" font-size="17.3" fill="#211c36" text-anchor="end" textLength="23.5" lengthAdjust="spacingAndGlyphs" stroke="#211c36" stroke-width="0.35">0.1</text>
<text x="77.5" y="670" font-size="17.3" fill="#211c36" text-anchor="middle" stroke="#211c36" stroke-width="0.35">0</text>
<text x="225" y="670" font-size="17.3" fill="#211c36" text-anchor="middle" textLength="26.5" lengthAdjust="spacingAndGlyphs" stroke="#211c36" stroke-width="0.35">0.2</text>
<text x="371.3" y="670" font-size="17.3" fill="#211c36" text-anchor="middle" textLength="26" lengthAdjust="spacingAndGlyphs" stroke="#211c36" stroke-width="0.35">0.4</text>
<text x="519.2" y="670" font-size="17.3" fill="#211c36" text-anchor="middle" textLength="26.3" lengthAdjust="spacingAndGlyphs" stroke="#211c36" stroke-width="0.35">0.6</text>
<text x="230.7" y="691.8" font-size="18" fill="#211c36" textLength="132" lengthAdjust="spacingAndGlyphs" stroke="#211c36" stroke-width="0.35">Pressure (MPa)</text>
<text transform="translate(29.6,535) rotate(-90)" font-size="17.5" fill="#211c36" stroke="#211c36" stroke-width="0.35" textLength="63.5" lengthAdjust="spacingAndGlyphs">Δ<tspan font-style="italic">T</tspan> (°C)</text>
<text x="152.5" y="467.5" font-size="18" fill="#211c36" textLength="72.5" lengthAdjust="spacingAndGlyphs" stroke="#211c36" stroke-width="0.35">0.1 MPa</text>
<text x="140" y="491" font-size="18" fill="#211c36" stroke="#211c36" stroke-width="0.35" textLength="98.8" lengthAdjust="spacingAndGlyphs">Δ<tspan font-style="italic">T</tspan> = 0.6 °C</text>
<text x="361.7" y="601.3" font-size="18" fill="#211c36" textLength="72" lengthAdjust="spacingAndGlyphs" stroke="#211c36" stroke-width="0.35">0.5 MPa</text>
<text x="350.4" y="624.3" font-size="18" fill="#211c36" stroke="#211c36" stroke-width="0.35" textLength="94.2" lengthAdjust="spacingAndGlyphs">Δ<tspan font-style="italic">T</tspan> = 67 °C</text>
<text x="167" y="591.7" font-size="18" fill="#211c36" stroke="#211c36" stroke-width="0.35" textLength="104.2" lengthAdjust="spacingAndGlyphs"><tspan font-style="italic">R</tspan><tspan dy="-6" font-size="11.5">2</tspan><tspan dy="6"> = 0.9914</tspan></text>
</g>
<g id="panel-d">
<defs>
<linearGradient id="d1g" x1="0" y1="0" x2="1" y2="1"><stop offset="0" stop-color="#3e18b0"/><stop offset="0.5" stop-color="#4c16ba"/><stop offset="1" stop-color="#6c18c6"/></linearGradient>
<linearGradient id="d2band" x1="0" y1="0" x2="1" y2="0"><stop offset="0" stop-color="#f4703a"/><stop offset="0.25" stop-color="#fa9a28"/><stop offset="0.4" stop-color="#ffd020"/><stop offset="0.62" stop-color="#ffd020"/><stop offset="0.78" stop-color="#fa9a28"/><stop offset="1" stop-color="#f07840"/></linearGradient>
<linearGradient id="d2bg" x1="0" y1="0" x2="0" y2="1"><stop offset="0" stop-color="#cc2ca8"/><stop offset="0.3" stop-color="#e83480"/><stop offset="0.7" stop-color="#e03888"/><stop offset="1" stop-color="#b83cac"/></linearGradient>
<linearGradient id="d2bv" x1="0" y1="0" x2="0" y2="1"><stop offset="0" stop-color="#ee4838" stop-opacity="0.75"/><stop offset="0.3" stop-color="#f06030" stop-opacity="0"/><stop offset="0.7" stop-color="#f06030" stop-opacity="0"/><stop offset="1" stop-color="#ee4838" stop-opacity="0.75"/></linearGradient>
<radialGradient id="d2w" cx="0.5" cy="0.5" r="0.5"><stop offset="0" stop-color="#ffffff"/><stop offset="0.7" stop-color="#ffffff"/><stop offset="0.9" stop-color="#fff8b0" stop-opacity="0.8"/><stop offset="1" stop-color="#ffe860" stop-opacity="0"/></radialGradient>
</defs>
<text x="543" y="393.5" font-size="32" fill="#161018" stroke="#161018" stroke-width="0.9">d</text>
<rect x="631.5" y="380.3" width="224.1" height="79.3" fill="url(#d1g)"/>
<rect x="660" y="380.3" width="7" height="79.3" fill="#2a0f8c"/>
<rect x="657.8" y="380.3" width="2.2" height="79.3" fill="#d6b8f4"/>
<rect x="823.5" y="380.3" width="4.5" height="79.3" fill="#2e1190"/>
<rect x="828" y="380.3" width="2" height="79.3" fill="#cdaef0"/>
<path d="M676,403 H824 M676,435.4 H824 M714.4,380.3 V403 M714.4,435.4 V459.6 M676,380.3 V403 M676,435.4 V459.6" stroke="#8f68d6" stroke-width="1.2" fill="none"/>
<path d="M673.5,392 V401 M673.5,438 V455" stroke="#e8d8ff" stroke-width="2.4"/>
<rect x="638.6" y="443.5" width="37.9" height="5.8" fill="#ffffff"/>
<rect x="830" y="519.5" width="225.8" height="78.4" fill="#c43ab4"/>
<rect x="866" y="519.5" width="154" height="78.4" fill="url(#d2bg)"/>
<rect x="862" y="543.5" width="158" height="31.6" fill="url(#d2band)"/>
<rect x="862" y="543.5" width="158" height="31.6" fill="url(#d2bv)"/>
<path d="M872,542 H906 M872,576.5 H906 M976,542 H1019 M976,576.5 H1019" stroke="#7a2020" stroke-width="1.4"/>
<ellipse cx="942.3" cy="560.6" rx="31" ry="16" fill="url(#d2w)"/>
<rect x="859" y="519.5" width="7" height="78.4" fill="#8a2058"/>
<rect x="856.4" y="519.5" width="2.4" height="78.4" fill="#f6c6e8"/>
<rect x="1019.5" y="519.5" width="3.6" height="78.4" fill="#4a1030"/>
<rect x="1025.6" y="519.5" width="2" height="78.4" fill="#f0b8e0"/>
<path d="M908.4,577 V597.9" stroke="#f0a4e0" stroke-width="1.6"/>
<path d="M872,531 V541 M872,577 V592" stroke="#fbe0f0" stroke-width="2.6"/>
<rect x="838.9" y="580.6" width="36.2" height="6.2" fill="#ffffff"/>
<path d="M680.4,621.8 L685.6,627 L680.4,632.2 L675.1999999999999,627 Z" fill="#8cc63e"/>
<path d="M709,588.8 L714.2,594 L709,599.2 L703.8,594 Z" fill="#8cc63e"/>
<path d="M738.2,570.4 L743.4000000000001,575.6 L738.2,580.8000000000001 L733.0,575.6 Z" fill="#8cc63e"/>
<path d="M768,541.5 L773.2,546.7 L768,551.9000000000001 L762.8,546.7 Z" fill="#8cc63e"/>
<path d="M795.8,521.8 L801.0,527 L795.8,532.2 L790.5999999999999,527 Z" fill="#8cc63e"/>
<path d="M825,499.8 L830.2,505 L825,510.2 L819.8,505 Z" fill="#8cc63e"/>
<path d="M854.2,477.1 L859.4000000000001,482.3 L854.2,487.5 L849.0,482.3 Z" fill="#8cc63e"/>
<path d="M884.2,457.40000000000003 L889.4000000000001,462.6 L884.2,467.8 L879.0,462.6 Z" fill="#8cc63e"/>
<path d="M913.4,442.90000000000003 L918.6,448.1 L913.4,453.3 L908.1999999999999,448.1 Z" fill="#8cc63e"/>
<path d="M942.6,429.6 L947.8000000000001,434.8 L942.6,440.0 L937.4,434.8 Z" fill="#8cc63e"/>
<path d="M971.5,420.7 L976.7,425.9 L971.5,431.09999999999997 L966.3,425.9 Z" fill="#8cc63e"/>
<path d="M680.4,619 L913.4,439.8" stroke="#0c0c0c" stroke-width="5" stroke-linecap="round" stroke-dasharray="25.8 18.5" fill="none" transform="translate(1.6,-1.2)"/>
<path d="M622.2,373.2 H1059.3 V646.6" fill="none" stroke="#15152a" stroke-width="1.7"/>
<path d="M622.2,372.5 V646.6 H1060" fill="none" stroke="#26264a" stroke-width="1.8"/>
<path d="M615.8,373.4 H622.2 M615.8,441.8 H622.2 M615.8,510.1 H622.2 M615.8,578.4 H622.2 M615.8,646.6 H622.2 M622.2,646.5 V651 M767.4,646.5 V651 M913.3,646.5 V651 M1059.2,646.5 V651" stroke="#26264a" stroke-width="1.5" fill="none"/>
<text x="610" y="379" font-size="17.3" fill="#211c36" text-anchor="end" textLength="39.2" lengthAdjust="spacingAndGlyphs" stroke="#211c36" stroke-width="0.35">1000</text>
<text x="611" y="447.2" font-size="17.3" fill="#211c36" text-anchor="end" textLength="27.8" lengthAdjust="spacingAndGlyphs" stroke="#211c36" stroke-width="0.35">100</text>
<text x="611.5" y="515.5" font-size="17.3" fill="#211c36" text-anchor="end" textLength="17.8" lengthAdjust="spacingAndGlyphs" stroke="#211c36" stroke-width="0.35">10</text>
<text x="610.5" y="583.4" font-size="17.3" fill="#211c36" text-anchor="end" stroke="#211c36" stroke-width="0.35">1</text>
<text x="610" y="652.3" font-size="17.3" fill="#211c36" text-anchor="end" textLength="23.6" lengthAdjust="spacingAndGlyphs" stroke="#211c36" stroke-width="0.35">0.1</text>
<text x="622.8" y="669" font-size="17.3" fill="#211c36" text-anchor="middle" stroke="#211c36" stroke-width="0.35">0</text>
<text x="768.2" y="669" font-size="17.3" fill="#211c36" text-anchor="middle" textLength="35.5" lengthAdjust="spacingAndGlyphs" stroke="#211c36" stroke-width="0.35">0.05</text>
<text x="913" y="669" font-size="17.3" fill="#211c36" text-anchor="middle" textLength="23" lengthAdjust="spacingAndGlyphs" stroke="#211c36" stroke-width="0.35">0.1</text>
<text x="1059" y="669" font-size="17.3" fill="#211c36" text-anchor="middle" textLength="35.3" lengthAdjust="spacingAndGlyphs" stroke="#211c36" stroke-width="0.35">0.15</text>
<text x="784" y="693.2" font-size="18" fill="#211c36" textLength="110.5" lengthAdjust="spacingAndGlyphs" stroke="#211c36" stroke-width="0.35">Tensile strain</text>
<text transform="translate(573.4,535.5) rotate(-90) scale(1,1.2)" font-size="17" fill="#211c36" stroke="#211c36" stroke-width="0.35" textLength="63" lengthAdjust="spacingAndGlyphs">Δ<tspan font-style="italic">T</tspan> (°C)</text>
<text x="691.6" y="479.3" font-size="18" fill="#211c36" textLength="79.6" lengthAdjust="spacingAndGlyphs" stroke="#211c36" stroke-width="0.35">2% strain</text>
<text x="683.5" y="502" font-size="18" fill="#211c36" stroke="#211c36" stroke-width="0.35" textLength="98.5" lengthAdjust="spacingAndGlyphs">Δ<tspan font-style="italic">T</tspan> = 0.2 °C</text>
<text x="898.7" y="616" font-size="18" fill="#211c36" textLength="89" lengthAdjust="spacingAndGlyphs" stroke="#211c36" stroke-width="0.35">12% strain</text>
<text x="890.4" y="639" font-size="18" fill="#211c36" stroke="#211c36" stroke-width="0.35" textLength="103.4" lengthAdjust="spacingAndGlyphs">Δ<tspan font-style="italic">T</tspan> = 170 °C</text>
<text x="714.6" y="621" font-size="18" fill="#211c36" stroke="#211c36" stroke-width="0.35" textLength="93.7" lengthAdjust="spacingAndGlyphs"><tspan font-style="italic">R</tspan><tspan dy="-6" font-size="11.5">2</tspan><tspan dy="6"> = 0.995</tspan></text>
</g>
<g id="panel-e">
<defs>
<linearGradient id="esph" x1="0" y1="0" x2="0" y2="1"><stop offset="0" stop-color="#676f75"/><stop offset="0.5" stop-color="#555c62"/><stop offset="1" stop-color="#444a4f"/></linearGradient>
<clipPath id="ecl"><ellipse cx="382.6" cy="921.7" rx="79.8" ry="76.4"/></clipPath>
</defs>
<text x="1.0" y="729.6" font-size="33" fill="#161018" textLength="16" lengthAdjust="spacingAndGlyphs" stroke="#161018" stroke-width="0.9">e</text>
<path d="M119.75,1029.25 v-8 M119.75,712 v8 M163.90,1029.25 v-4.5 M163.90,712 v4.5 M208.05,1029.25 v-8 M208.05,712 v8 M252.20,1029.25 v-4.5 M252.20,712 v4.5 M296.35,1029.25 v-8 M296.35,712 v8 M340.50,1029.25 v-4.5 M340.50,712 v4.5 M384.65,1029.25 v-8 M384.65,712 v8 M428.80,1029.25 v-4.5 M428.80,712 v4.5 M472.95,1029.25 v-8 M472.95,712 v8 M75.75,1008.09 h4.5 M515.6,1008.09 h-4.5 M75.75,986.93 h8 M515.6,986.93 h-8 M75.75,965.77 h4.5 M515.6,965.77 h-4.5 M75.75,944.61 h8 M515.6,944.61 h-8 M75.75,923.45 h4.5 M515.6,923.45 h-4.5 M75.75,902.29 h8 M515.6,902.29 h-8 M75.75,881.13 h4.5 M515.6,881.13 h-4.5 M75.75,859.97 h8 M515.6,859.97 h-8 M75.75,838.81 h4.5 M515.6,838.81 h-4.5 M75.75,817.65 h8 M515.6,817.65 h-8 M75.75,796.49 h4.5 M515.6,796.49 h-4.5 M75.75,775.33 h8 M515.6,775.33 h-8 M75.75,754.17 h4.5 M515.6,754.17 h-4.5 M75.75,733.01 h8 M515.6,733.01 h-8" stroke="#141414" stroke-width="1.8" fill="none"/>
<ellipse cx="382.6" cy="921.7" rx="79.8" ry="76.4" fill="url(#esph)"/>
<g clip-path="url(#ecl)">
<path d="M331.9,948.1 L381,937.4 L430.1,952.7 L430.1,978 L374.9,992 L331.9,975 Z" fill="#353b41"/>
<path d="M331.9,948.1 L381,937.4 L430.1,952.7 L374.9,966.5 Z" fill="#3c4349"/>
<path d="M331.9,876 L386,864 L433.2,881 L371.8,896 Z" fill="#9aa3ab" opacity="0.8"/>
<path d="M331.9,876 L352,871.5 L358,889 Z" fill="#ccd1d6" opacity="0.8"/>
<path d="M331.9,876 L371.8,896 L371.8,899.5 L331.9,879 Z" fill="#c6ccd2"/>
<path d="M371.8,896 L433.2,880.6 L433.2,884 L371.8,899.5 Z" fill="#8a939c"/>
<rect x="358.5" y="858" width="12" height="33" fill="#949da4" opacity="0.9"/>
<rect x="358.5" y="858" width="3.2" height="33" fill="#b6bec5" opacity="0.9"/>
<ellipse cx="364.5" cy="857.5" rx="6" ry="2.6" fill="#767f87" stroke="#aeb6bd" stroke-width="0.9"/>
<rect x="388.5" y="851.5" width="12" height="39.5" fill="#949da4" opacity="0.9"/>
<rect x="388.5" y="851.5" width="3.2" height="39.5" fill="#b6bec5" opacity="0.9"/>
<ellipse cx="394.5" cy="851.0" rx="6" ry="2.6" fill="#767f87" stroke="#aeb6bd" stroke-width="0.9"/>
<rect x="374" y="868" width="11" height="24" fill="#b9c0c8" opacity="0.8"/>
<path d="M330.4,906.1 L370.3,925.7 L370.3,944.1 L330.4,922 Z" fill="#b88448"/>
<path d="M370.3,925.7 L431.7,911.3 L431.7,928.2 L370.3,944.1 Z" fill="#8e6234"/>
<path d="M330.4,906.1 L387.8,892.9 L431.7,911.3 L370.3,925.7 Z" fill="#a8743c"/>
<path d="M348.8,906.7 L387.2,898.1 L414.8,910.4 L367.2,921.4 Z" fill="#2a2622"/>
</g>
<path d="M284.4,898.1 L364.2,860.7 M433.2,849.9 L393.3,871.4 M461.4,882.2 L420.9,922 M330.4,998.1 L337.5,987.1" stroke="#15151f" stroke-width="1.4" fill="none"/>
<path d="M119.5,1005 H214" stroke="#0a0a0a" stroke-width="9.5" fill="none"/>
<path d="M119.5,1005.0 C126.2,1005.0 146.6,1005.3 160.0,1005.3 C173.4,1005.3 191.3,1005.1 200.0,1005.0 C208.7,1004.9 209.4,1005.6 212.0,1004.8 C214.6,1004.0 214.4,1004.5 215.5,1000.0 C216.6,995.5 217.2,986.8 218.3,978.1 C219.5,969.5 221.2,958.6 222.4,948.1 C223.7,937.6 224.7,925.1 225.8,914.9 C226.9,904.6 228.0,893.6 229.1,886.6 C230.2,879.6 231.1,878.8 232.3,873.0 C233.5,867.2 234.9,858.8 236.4,851.8 C237.9,844.8 239.3,837.4 241.2,830.7 C243.1,824.0 245.0,817.7 247.7,811.5 C250.4,805.3 253.7,799.0 257.5,793.6 C261.3,788.2 265.6,783.2 270.5,778.9 C275.4,774.6 281.3,770.7 286.7,767.6 C292.1,764.5 297.0,762.4 303.0,760.3 C309.0,758.2 316.6,756.6 322.5,755.2 C328.4,753.8 333.3,752.9 338.7,751.9 C344.1,750.9 348.2,750.2 355.0,749.4 C361.8,748.6 371.2,747.9 379.3,747.3 C387.4,746.7 397.8,746.2 403.7,745.8 C409.6,745.4 407.8,745.7 414.8,745.1 C421.8,744.5 437.1,743.0 445.5,742.3 C453.9,741.6 462.1,741.0 465.4,740.8" stroke="#0a0a0a" stroke-width="6.8" fill="none" stroke-linejoin="round"/>
<path d="M222.3,908.2 h9" stroke="#ffffff" stroke-width="1.2"/>
<path d="M218.7,935.7 h9" stroke="#ffffff" stroke-width="1.2"/>
<path d="M217.6,944 h9" stroke="#ffffff" stroke-width="1.2"/>
<path d="M215.6,959.8 h9" stroke="#ffffff" stroke-width="1.2"/>
<path d="M214.5,968.1 h9" stroke="#ffffff" stroke-width="1.2"/>
<path d="M213.3,977.2 h9" stroke="#ffffff" stroke-width="1.2"/>
<path d="M119.5,998.3 H221" stroke="#f01414" stroke-width="8.6" fill="none" stroke-linecap="round"/>
<path d="M119.5,998.0 C122.1,998.2 129.9,999.0 135.0,999.0 C140.1,999.0 144.2,998.0 150.0,998.0 C155.8,998.0 163.3,998.8 170.0,998.8 C176.7,998.8 183.3,998.3 190.0,998.3 C196.7,998.3 205.2,998.7 210.0,998.8 C214.8,998.9 216.8,999.3 219.0,998.8 C221.2,998.3 222.4,997.5 223.5,996.0 C224.6,994.5 224.9,993.5 225.8,989.7 C226.7,985.9 228.0,979.2 229.1,973.1 C230.2,967.0 231.2,959.8 232.4,953.1 C233.7,946.5 235.1,939.6 236.6,933.2 C238.1,926.8 239.7,921.0 241.6,914.9 C243.5,908.8 245.7,902.0 248.2,896.6 C250.7,891.2 252.8,887.9 256.5,882.6 C260.2,877.3 266.0,869.9 270.5,864.8 C275.0,859.7 279.2,855.5 283.5,852.0 C287.8,848.5 292.2,846.3 296.5,843.7 C300.8,841.1 305.2,838.8 309.5,836.6 C313.8,834.4 317.6,832.6 322.5,830.7 C327.4,828.8 333.3,827.1 338.7,825.4 C344.1,823.7 349.6,822.2 355.0,820.4 C360.4,818.6 365.8,816.3 371.2,814.5 C376.6,812.7 382.0,810.9 387.4,809.4 C392.8,807.9 399.1,806.4 403.7,805.3 C408.3,804.2 410.4,803.4 414.8,802.8 C419.2,802.2 425.0,802.1 430.1,801.9 C435.2,801.6 439.6,801.4 445.5,801.3 C451.4,801.2 462.1,801.3 465.4,801.3" stroke="#f01414" stroke-width="6.4" fill="none" stroke-linejoin="round" stroke-linecap="round"/>
<rect x="75.75" y="712" width="439.85" height="317.25" fill="none" stroke="#141414" stroke-width="2"/>
<rect x="102" y="730.5" width="146" height="47" fill="#ffffff" stroke="#2a2a30" stroke-width="1.6"/>
<path d="M108.8,744.5 H149.5" stroke="#555" stroke-width="1"/>
<rect x="125.4" y="741.1" width="6.8" height="6.8" fill="#0a0a0a"/>
<path d="M108.8,766.8 H149.5" stroke="#f04a4a" stroke-width="1"/>
<circle cx="128.8" cy="766.8" r="3.6" fill="#f01414"/>
<text x="156.3" y="749.5" font-size="17.5" fill="#16161f" textLength="48.7" lengthAdjust="spacingAndGlyphs" stroke="#16161f" stroke-width="0.4">Water</text>
<text x="156.3" y="773" font-size="17.5" fill="#16161f" textLength="87.5" lengthAdjust="spacingAndGlyphs" stroke="#16161f" stroke-width="0.4">LM&amp;Water</text>
<text x="68.2" y="1034.5" font-size="17" fill="#16161f" text-anchor="end" textLength="19.4" lengthAdjust="spacingAndGlyphs" stroke="#16161f" stroke-width="0.4">24</text>
<text x="68.2" y="992.1" font-size="17" fill="#16161f" text-anchor="end" textLength="19.4" lengthAdjust="spacingAndGlyphs" stroke="#16161f" stroke-width="0.4">26</text>
<text x="68.2" y="949.8" font-size="17" fill="#16161f" text-anchor="end" textLength="19.4" lengthAdjust="spacingAndGlyphs" stroke="#16161f" stroke-width="0.4">28</text>
<text x="68.2" y="907.5" font-size="17" fill="#16161f" text-anchor="end" textLength="19.4" lengthAdjust="spacingAndGlyphs" stroke="#16161f" stroke-width="0.4">30</text>
<text x="68.2" y="865.2" font-size="17" fill="#16161f" text-anchor="end" textLength="19.4" lengthAdjust="spacingAndGlyphs" stroke="#16161f" stroke-width="0.4">32</text>
<text x="68.2" y="822.9" font-size="17" fill="#16161f" text-anchor="end" textLength="19.4" lengthAdjust="spacingAndGlyphs" stroke="#16161f" stroke-width="0.4">34</text>
<text x="68.2" y="780.5" font-size="17" fill="#16161f" text-anchor="end" textLength="19.4" lengthAdjust="spacingAndGlyphs" stroke="#16161f" stroke-width="0.4">36</text>
<text x="68.2" y="738.2" font-size="17" fill="#16161f" text-anchor="end" textLength="19.4" lengthAdjust="spacingAndGlyphs" stroke="#16161f" stroke-width="0.4">38</text>
<text x="120.0" y="1050.5" font-size="17.5" fill="#16161f" text-anchor="middle" stroke="#16161f" stroke-width="0.4">0</text>
<text x="207.9" y="1050.5" font-size="17.5" fill="#16161f" text-anchor="middle" textLength="29.8" lengthAdjust="spacingAndGlyphs" stroke="#16161f" stroke-width="0.4">200</text>
<text x="296.2" y="1050.5" font-size="17.5" fill="#16161f" text-anchor="middle" textLength="29.8" lengthAdjust="spacingAndGlyphs" stroke="#16161f" stroke-width="0.4">400</text>
<text x="384.4" y="1050.5" font-size="17.5" fill="#16161f" text-anchor="middle" textLength="29.8" lengthAdjust="spacingAndGlyphs" stroke="#16161f" stroke-width="0.4">600</text>
<text x="472.8" y="1050.5" font-size="17.5" fill="#16161f" text-anchor="middle" textLength="29.8" lengthAdjust="spacingAndGlyphs" stroke="#16161f" stroke-width="0.4">800</text>
<text x="250.6" y="1078" font-size="19" fill="#16161f" textLength="82" lengthAdjust="spacingAndGlyphs" stroke="#16161f" stroke-width="0.4">Time (s)</text>
<text transform="translate(28.2,959.4) rotate(-90) scale(1,1.27)" font-size="19" fill="#16161f" stroke="#16161f" stroke-width="0.4" textLength="127" lengthAdjust="spacingAndGlyphs">Temperature</text>
<text transform="translate(28.2,826.4) rotate(-90) scale(1,1.27)" font-size="19" fill="#16161f" stroke="#16161f" stroke-width="0.4" textLength="36" lengthAdjust="spacingAndGlyphs">(℃)</text>
<text x="254.9" y="916.9" font-size="19.5" fill="#1a1a34" textLength="38.6" lengthAdjust="spacingAndGlyphs">Inlet</text>
<text x="411.7" y="841.8" font-size="19.5" fill="#1a1a34" textLength="53.7" lengthAdjust="spacingAndGlyphs">Outlet</text>
<text x="460.8" y="875.5" font-size="19.5" fill="#1a1a34" textLength="42.4" lengthAdjust="spacingAndGlyphs">Cold</text>
<text x="460.8" y="898" font-size="19.5" fill="#1a1a34" textLength="44.5" lengthAdjust="spacingAndGlyphs">plate</text>
<text x="279.2" y="1017.2" font-size="19.5" fill="#1a1a34" textLength="122.7" lengthAdjust="spacingAndGlyphs">Heating block</text>
</g>
<g id="panel-f">
<text x="555.4" y="733.6" font-size="32" fill="#161018" textLength="11.7" lengthAdjust="spacingAndGlyphs" stroke="#161018" stroke-width="0.9">f</text>
<path d="M654.70,1029 v-4 M654.70,717.5 v4 M682.20,1029 v-7.5 M682.20,717.5 v7.5 M709.70,1029 v-4 M709.70,717.5 v4 M737.20,1029 v-7.5 M737.20,717.5 v7.5 M764.70,1029 v-4 M764.70,717.5 v4 M792.20,1029 v-7.5 M792.20,717.5 v7.5 M819.70,1029 v-4 M819.70,717.5 v4 M847.20,1029 v-7.5 M847.20,717.5 v7.5 M874.70,1029 v-4 M874.70,717.5 v4 M902.20,1029 v-7.5 M902.20,717.5 v7.5 M929.70,1029 v-4 M929.70,717.5 v4 M957.20,1029 v-7.5 M957.20,717.5 v7.5 M984.70,1029 v-4 M984.70,717.5 v4 M1012.20,1029 v-7.5 M1012.20,717.5 v7.5 M1039.70,1029 v-4 M1039.70,717.5 v4 M627.2,1016.02 h4 M1067,1016.02 h-4 M627.2,1003.04 h7.5 M1067,1003.04 h-7.5 M627.2,990.06 h4 M1067,990.06 h-4 M627.2,977.08 h7.5 M1067,977.08 h-7.5 M627.2,964.10 h4 M1067,964.10 h-4 M627.2,951.12 h7.5 M1067,951.12 h-7.5 M627.2,938.14 h4 M1067,938.14 h-4 M627.2,925.16 h7.5 M1067,925.16 h-7.5 M627.2,912.18 h4 M1067,912.18 h-4 M627.2,899.20 h7.5 M1067,899.20 h-7.5 M627.2,886.22 h4 M1067,886.22 h-4 M627.2,873.24 h7.5 M1067,873.24 h-7.5 M627.2,860.26 h4 M1067,860.26 h-4 M627.2,847.28 h7.5 M1067,847.28 h-7.5 M627.2,834.30 h4 M1067,834.30 h-4 M627.2,821.32 h7.5 M1067,821.32 h-7.5 M627.2,808.34 h4 M1067,808.34 h-4 M627.2,795.36 h7.5 M1067,795.36 h-7.5 M627.2,782.38 h4 M1067,782.38 h-4 M627.2,769.40 h7.5 M1067,769.40 h-7.5 M627.2,756.42 h4 M1067,756.42 h-4 M627.2,743.44 h7.5 M1067,743.44 h-7.5 M627.2,730.46 h4 M1067,730.46 h-4" stroke="#141414" stroke-width="1.8" fill="none"/>
<polyline points="670.7,1017.7 725.7,999.3 813.8,996.1 902,1000.6 990.2,995.6" fill="none" stroke="#e8342c" stroke-width="2.4" stroke-linejoin="round"/>
<circle cx="670.7" cy="1017.7" r="3.8" fill="#e8241c"/>
<circle cx="725.7" cy="999.3" r="3.8" fill="#e8241c"/>
<circle cx="813.8" cy="996.1" r="3.8" fill="#e8241c"/>
<circle cx="902" cy="1000.6" r="3.8" fill="#e8241c"/>
<circle cx="990.2" cy="995.6" r="3.8" fill="#e8241c"/>
<polyline points="670.7,739.5 725.7,860.5 813.8,906.3 902,926.5 990.2,939.2" fill="none" stroke="#101010" stroke-width="2.2" stroke-linejoin="round"/>
<rect x="667.3000000000001" y="736.1" width="6.8" height="6.8" fill="#101010"/>
<rect x="722.3000000000001" y="857.1" width="6.8" height="6.8" fill="#101010"/>
<rect x="810.4" y="902.9" width="6.8" height="6.8" fill="#101010"/>
<rect x="898.6" y="923.1" width="6.8" height="6.8" fill="#101010"/>
<rect x="986.8000000000001" y="935.8000000000001" width="6.8" height="6.8" fill="#101010"/>
<polyline points="670.7,741.5 725.7,876 813.8,925.2 902,945.6 990.2,953.4" fill="none" stroke="#1c30e0" stroke-width="2.5" stroke-linejoin="round"/>
<path d="M670.7,736.9 L675.3000000000001,744.9 L666.1,744.9 Z" fill="#1428e8"/>
<path d="M725.7,871.4 L730.3000000000001,879.4 L721.1,879.4 Z" fill="#1428e8"/>
<path d="M813.8,920.6 L818.4,928.6 L809.1999999999999,928.6 Z" fill="#1428e8"/>
<path d="M902,941.0 L906.6,949.0 L897.4,949.0 Z" fill="#1428e8"/>
<path d="M990.2,948.8 L994.8000000000001,956.8 L985.6,956.8 Z" fill="#1428e8"/>
<rect x="627.2" y="717.5" width="439.8" height="311.5" fill="none" stroke="#141414" stroke-width="2"/>
<rect x="900" y="739.4" width="141.4" height="68.6" fill="#ffffff" stroke="#1e1e24" stroke-width="1.6"/>
<path d="M905.8,753.3 H948.1" stroke="#101010" stroke-width="2"/>
<rect x="923.8" y="750.1" width="6.4" height="6.4" fill="#101010"/>
<path d="M905.8,775.5 H948.1" stroke="#e8342c" stroke-width="2"/>
<circle cx="927" cy="775.5" r="3.6" fill="#e8241c"/>
<path d="M905.8,797.1 H948.1" stroke="#1c30e0" stroke-width="2"/>
<path d="M927,792.6 L931.4,800.2 L922.6,800.2 Z" fill="#1428e8"/>
<text x="953.8" y="758.6" font-size="17.5" fill="#16161f" textLength="83.7" lengthAdjust="spacingAndGlyphs" stroke="#16161f" stroke-width="0.4">Cold plate</text>
<text x="953.8" y="780.5" font-size="17.5" fill="#16161f" textLength="34.9" lengthAdjust="spacingAndGlyphs" stroke="#16161f" stroke-width="0.4">Inlet</text>
<text x="953.8" y="803.6" font-size="17.5" fill="#16161f" textLength="48.8" lengthAdjust="spacingAndGlyphs" stroke="#16161f" stroke-width="0.4">Outlet</text>
<text x="620.4" y="1034.0" font-size="17" fill="#16161f" text-anchor="end" textLength="21" lengthAdjust="spacingAndGlyphs" stroke="#16161f" stroke-width="0.7">28</text>
<text x="620.4" y="1008.0" font-size="17" fill="#16161f" text-anchor="end" textLength="21" lengthAdjust="spacingAndGlyphs" stroke="#16161f" stroke-width="0.7">30</text>
<text x="620.4" y="982.1" font-size="17" fill="#16161f" text-anchor="end" textLength="21" lengthAdjust="spacingAndGlyphs" stroke="#16161f" stroke-width="0.7">32</text>
<text x="620.4" y="956.1" font-size="17" fill="#16161f" text-anchor="end" textLength="21" lengthAdjust="spacingAndGlyphs" stroke="#16161f" stroke-width="0.7">34</text>
<text x="620.4" y="930.2" font-size="17" fill="#16161f" text-anchor="end" textLength="21" lengthAdjust="spacingAndGlyphs" stroke="#16161f" stroke-width="0.7">36</text>
<text x="620.4" y="904.2" font-size="17" fill="#16161f" text-anchor="end" textLength="21" lengthAdjust="spacingAndGlyphs" stroke="#16161f" stroke-width="0.7">38</text>
<text x="620.4" y="878.2" font-size="17" fill="#16161f" text-anchor="end" textLength="21" lengthAdjust="spacingAndGlyphs" stroke="#16161f" stroke-width="0.7">40</text>
<text x="620.4" y="852.3" font-size="17" fill="#16161f" text-anchor="end" textLength="21" lengthAdjust="spacingAndGlyphs" stroke="#16161f" stroke-width="0.7">42</text>
<text x="620.4" y="826.3" font-size="17" fill="#16161f" text-anchor="end" textLength="21" lengthAdjust="spacingAndGlyphs" stroke="#16161f" stroke-width="0.7">44</text>
<text x="620.4" y="800.4" font-size="17" fill="#16161f" text-anchor="end" textLength="21" lengthAdjust="spacingAndGlyphs" stroke="#16161f" stroke-width="0.7">46</text>
<text x="620.4" y="774.4" font-size="17" fill="#16161f" text-anchor="end" textLength="21" lengthAdjust="spacingAndGlyphs" stroke="#16161f" stroke-width="0.7">48</text>
<text x="620.4" y="748.4" font-size="17" fill="#16161f" text-anchor="end" textLength="21" lengthAdjust="spacingAndGlyphs" stroke="#16161f" stroke-width="0.7">50</text>
<text x="620.4" y="722.5" font-size="17" fill="#16161f" text-anchor="end" textLength="21" lengthAdjust="spacingAndGlyphs" stroke="#16161f" stroke-width="0.7">52</text>
<text x="626.9" y="1049.3" font-size="17.5" fill="#16161f" text-anchor="middle" stroke="#16161f" stroke-width="0.4">0</text>
<text x="681.9" y="1049.3" font-size="17.5" fill="#16161f" text-anchor="middle" stroke="#16161f" stroke-width="0.4">1</text>
<text x="736.9" y="1049.3" font-size="17.5" fill="#16161f" text-anchor="middle" stroke="#16161f" stroke-width="0.4">2</text>
<text x="791.9" y="1049.3" font-size="17.5" fill="#16161f" text-anchor="middle" stroke="#16161f" stroke-width="0.4">3</text>
<text x="846.9" y="1049.3" font-size="17.5" fill="#16161f" text-anchor="middle" stroke="#16161f" stroke-width="0.4">4</text>
<text x="901.9" y="1049.3" font-size="17.5" fill="#16161f" text-anchor="middle" stroke="#16161f" stroke-width="0.4">5</text>
<text x="956.9" y="1049.3" font-size="17.5" fill="#16161f" text-anchor="middle" stroke="#16161f" stroke-width="0.4">6</text>
<text x="1011.9" y="1049.3" font-size="17.5" fill="#16161f" text-anchor="middle" stroke="#16161f" stroke-width="0.4">7</text>
<text x="1066.9" y="1049.3" font-size="17.5" fill="#16161f" text-anchor="middle" stroke="#16161f" stroke-width="0.4">8</text>
<text x="772" y="1078" font-size="19" fill="#16161f" textLength="169.3" lengthAdjust="spacingAndGlyphs" stroke="#16161f" stroke-width="0.4">Volume flow (ml/s)</text>
<text transform="translate(581.6,955.6) rotate(-90) scale(1,1.25)" font-size="18" fill="#16161f" stroke="#16161f" stroke-width="0.4" textLength="115.6" lengthAdjust="spacingAndGlyphs">Temperature</text>
<text transform="translate(581.6,835.5) rotate(-90) scale(1,1.25)" font-size="18" fill="#16161f" stroke="#16161f" stroke-width="0.4" textLength="33.3" lengthAdjust="spacingAndGlyphs">(℃)</text>
</g>
</svg>
</body></html>
